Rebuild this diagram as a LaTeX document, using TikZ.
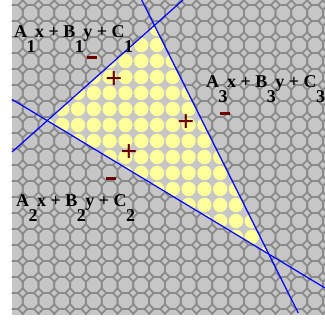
\documentclass[tikz,border=0pt]{standalone}
\usepackage{fontspec}
\setmainfont{Liberation Serif}
\usepackage{xcolor}
\usepackage{tikz}

\definecolor{cellgray}{HTML}{C6C6C6}
\definecolor{cellline}{HTML}{8A8A8A}
\definecolor{cellyellow}{HTML}{FFFF99}
\definecolor{signred}{HTML}{6B0000}

% lowered index digit, set at full size
\newcommand{\eqsub}[1]{\kern-0.5pt\raisebox{-15pt}{#1}\kern-0.5pt}

\tikzset{
  octcell/.pic={
    \draw[cellline, line width=1.8pt] (7.9,3.3) -- (3.3,8) -- (-3.3,8) -- (-7.9,3.3)
      -- (-7.9,-3.3) -- (-3.3,-8) -- (3.3,-8) -- (7.9,-3.3) -- cycle;
  },
  bline/.style={blue, line width=1.2pt},
  eqlabel/.style={anchor=base west, inner sep=0pt, font=\fontsize{18}{18}\selectfont\bfseries},
  plussign/.style={text=signred, inner sep=0pt, font=\fontsize{30}{30}\selectfont\bfseries},
  minussign/.style={text=signred, inner sep=0pt},
}

\begin{document}
\begin{tikzpicture}[x=1pt, y=-1pt]
    \useasboundingbox (0,0) rectangle (325,320);
    \fill[white] (0,0) rectangle (325,320);

    % the three lines
    \coordinate (aone) at (12,152);
    \coordinate (atwo) at (183,0);
    \coordinate (bone) at (12,99.4);
    \coordinate (btwo) at (325,288);
    \coordinate (cone) at (141.7,0);
    \coordinate (ctwo) at (298.3,313);
    \coordinate (tab) at (intersection of aone--atwo and bone--btwo);
    \coordinate (tac) at (intersection of aone--atwo and cone--ctwo);
    \coordinate (tbc) at (intersection of bone--btwo and cone--ctwo);

    \begin{scope}
        \clip (12,0) rectangle (325,315);
        \fill[cellgray] (12,0) rectangle (325,315);
        \foreach \i in {-1,...,19} {
            \foreach \j in {-1,...,19} {
                \pic at ({30.6+15.8*\i},{13+16*\j}) {octcell};
            }
        }
    \end{scope}

    % feasible region
    \begin{scope}
        \clip (tab) -- (tac) -- (tbc) -- cycle;
        \fill[cellgray] (tab) -- (tac) -- (tbc) -- cycle;
        \foreach \i in {0,...,18} {
            \foreach \j in {0,...,17} {
                \fill[cellyellow] ({30.6+15.8*\i},{13+16*\j}) circle (7.2);
            }
        }
    \end{scope}

    \draw[bline] (aone) -- (atwo);
    \draw[bline] (bone) -- (btwo);
    \draw[bline] (cone) -- (ctwo);

    \node[eqlabel] (eqone) at (14,38) {A\eqsub{1}x + B\eqsub{1}y + C\eqsub{1}};
    \node[eqlabel] (eqtwo) at (16,207) {A\eqsub{2}x + B\eqsub{2}y + C\eqsub{2}};
    \node[eqlabel] (eqthree) at (206,88) {A\eqsub{3}x + B\eqsub{3}y + C\eqsub{3}};

    \node[minussign] (minone) at (92,58) {\rule{10pt}{3pt}};
    \node[minussign] (mintwo) at (111.5,179) {\rule{10pt}{3pt}};
    \node[minussign] (minthree) at (224.5,114) {\rule{10pt}{3pt}};

    \node[plussign] (plusone) at (114,80) {+};
    \node[plussign] (plustwo) at (186,123) {+};
    \node[plussign] (plusthree) at (129,153) {+};
\end{tikzpicture}
\end{document}
